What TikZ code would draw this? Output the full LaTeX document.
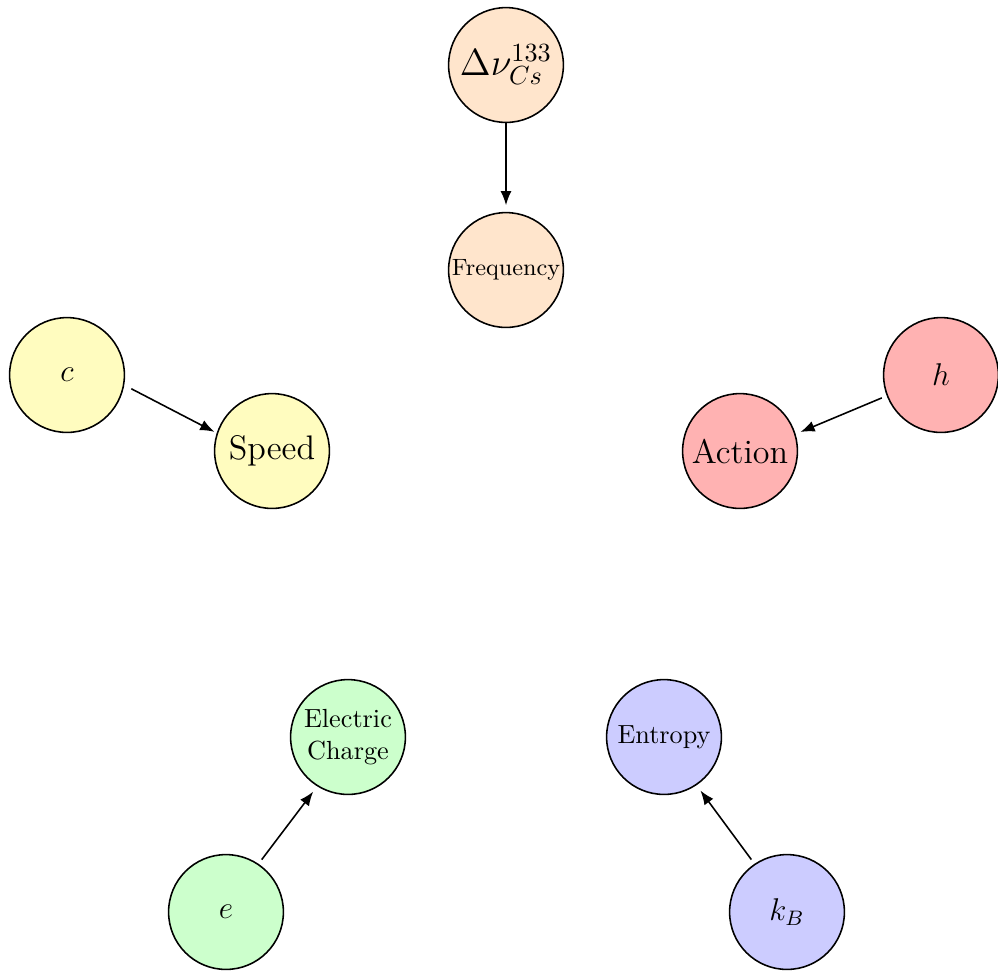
\documentclass[tikz,border=0pt]{standalone}
\usetikzlibrary{arrows.meta}
\tikzset{
	kreis/.style={circle, draw, line width=0.6pt, minimum size=1.54cm, inner sep=0pt, align=center},
	gross/.style={font=\fontsize{13}{15}\selectfont},
}
\begin{document}
\begin{tikzpicture}[x=0.01342cm, y=-0.01342cm, >={Latex[length=5.4pt, width=4.2pt]}, line width=0.6pt]
		
		\useasboundingbox (0,0) rectangle (998,971);
		
		% Frequenz
		\node[kreis, fill=orange!20, font=\Large] (cs) at (506,65) {$\Delta\nu_{Cs}^{133}$};
		\node[kreis, fill=orange!20, font=\small] (freq) at (506,270) {Frequency};
		
		% Geschwindigkeit
		\node[kreis, fill=yellow!25, font=\large] (c) at (67,375) {$c$};
		\node[kreis, fill=yellow!25, gross] (speed) at (272,451) {Speed};
		
		% Wirkung
		\node[kreis, fill=red!30, font=\large] (h) at (941,375) {$h$};
		\node[kreis, fill=red!30, gross] (action) at (740,451) {Action};
		
		% Ladung
		\node[kreis, fill=green!20, font=\large] (e) at (226,912) {$e$};
		\node[kreis, fill=green!20] (charge) at (348,737) {Electric\\Charge};
		
		% Entropie
		\node[kreis, fill=blue!20, font=\large] (kb) at (787,912) {$k_B$};
		\node[kreis, fill=blue!20] (entropy) at (664,737) {Entropy};
		
		% Pfeile
		\draw[->, shorten >=2.5pt] (cs) -- (freq);
		\draw[->, shorten <=3pt, shorten >=1pt] (c.-10) -- (speed.162);
		\draw[->, shorten <=2pt, shorten >=2pt] (h.-159) -- (action.17);
		\draw[->, shorten <=2pt, shorten >=2.5pt] (e.56) -- (charge.-122);
		\draw[->, shorten <=2pt, shorten >=2.5pt] (kb.124) -- (entropy.-56);
		
	\end{tikzpicture}
\end{document}
